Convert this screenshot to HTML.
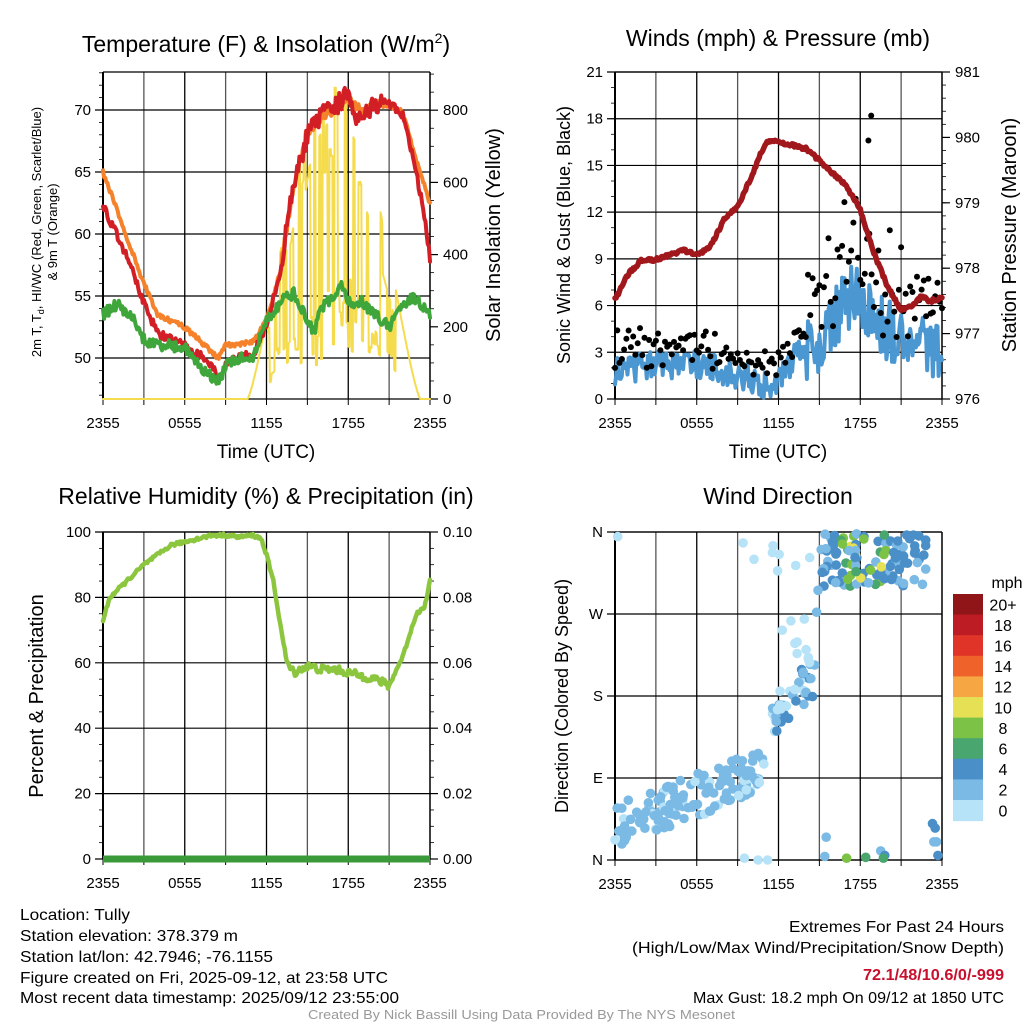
<!DOCTYPE html>
<html><head><meta charset="utf-8">
<style>
html,body{margin:0;padding:0;background:#fff;}
svg{display:block;font-family:"Liberation Sans",sans-serif;}
</style></head>
<body>
<svg id="s" width="1024" height="1024" viewBox="0 0 1024 1024" xmlns="http://www.w3.org/2000/svg">
<rect width="1024" height="1024" fill="#fff"/>
<g id="g"></g>
<g font-family="'Liberation Sans Narrow','Liberation Sans',sans-serif" font-size="16" fill="#000">
<text x="20" y="920" textLength="110" lengthAdjust="spacingAndGlyphs">Location: Tully</text>
<text x="20" y="941" textLength="218" lengthAdjust="spacingAndGlyphs">Station elevation: 378.379 m</text>
<text x="20" y="962" textLength="253" lengthAdjust="spacingAndGlyphs">Station lat/lon: 42.7946; -76.1155</text>
<text x="20" y="983" textLength="368" lengthAdjust="spacingAndGlyphs">Figure created on Fri, 2025-09-12, at 23:58 UTC</text>
<text x="20" y="1003" textLength="379" lengthAdjust="spacingAndGlyphs">Most recent data timestamp: 2025/09/12 23:55:00</text>
<text x="789" y="932" textLength="215" lengthAdjust="spacingAndGlyphs">Extremes For Past 24 Hours</text>
<text x="632" y="953" textLength="372" lengthAdjust="spacingAndGlyphs">(High/Low/Max Wind/Precipitation/Snow Depth)</text>
<text x="863" y="980" textLength="141" lengthAdjust="spacingAndGlyphs" fill="#c8102e" font-weight="bold">72.1/48/10.6/0/-999</text>
<text x="693" y="1003" textLength="311" lengthAdjust="spacingAndGlyphs">Max Gust: 18.2 mph On 09/12 at 1850 UTC</text>
<text x="308" y="1019" textLength="427" lengthAdjust="spacingAndGlyphs" font-size="13" fill="#999">Created By Nick Bassill Using Data Provided By The NYS Mesonet</text>
</g>
</svg>
<script>
(function(){
var out=[];
var seed=12345;function rnd(){seed=(seed*16807)%2147483647;return (seed-1)/2147483646;}
function interp(kp,t){for(var i=0;i<kp.length-1;i++){if(t<=kp[i+1][0]){var a=kp[i],b=kp[i+1];var f=(t-a[0])/(b[0]-a[0]);return a[1]+f*(b[1]-a[1]);}}return kp[kp.length-1][1];}
function txt(x,y,s,sz,anchor,extra){out.push('<text x="'+x+'" y="'+y+'" font-size="'+sz+'" text-anchor="'+(anchor||'start')+'" '+(extra||'')+'>'+s+'</text>');}
function line(x1,y1,x2,y2,c,w){out.push('<line x1="'+x1+'" y1="'+y1+'" x2="'+x2+'" y2="'+y2+'" stroke="'+c+'" stroke-width="'+w+'"/>');}
var times=['2355','0555','1155','1755','2355'];
function frame(L,R,T,B,hgrid,ylab,yfmt,rlab,rgrid,minorL,minorR){
  var w=R-L;
  for(var i=0;i<=8;i++){var x=L+w*i/8;line(x,T,x,B,i%2?'#555':'#000',1.3);}
  hgrid.forEach(function(h){line(L-8,h[0],R,h[0],'#000',1.2);txt(L-12,h[0]+5,h[1],15,'end');});
  (minorL||[]).forEach(function(y){line(L-4,y,L,y,'#000',0.8);});
  (rgrid||[]).forEach(function(h){line(R,h[0],R+8,h[0],'#000',1.2);txt(R+13,h[0]+5,h[1],15,'start');});
  (minorR||[]).forEach(function(y){line(R,y,R+4,y,'#000',0.8);});
  line(L,T,R,T,'#000',1.3);line(L,B,R,B,'#000',1.3);line(L,T,L,B,'#000',2);line(R,T,R,B,'#000',1.3);
  for(var i=0;i<=8;i++){var x=L+w*i/8;line(x,B,x,B+6,'#000',1);if(i%2==0)txt(x,B+29,times[i/2],15,'middle');}
}
function path(pts,c,w,op){var d='M'+pts.map(function(p){return p[0].toFixed(1)+','+p[1].toFixed(1);}).join('L');out.push('<path d="'+d+'" fill="none" stroke="'+c+'" stroke-width="'+w+'" stroke-linejoin="round" stroke-linecap="round"'+(op?' opacity="'+op+'"':'')+'/>');}
var N=288;
/* ---------- Panel 1 ---------- */
(function(){
var L=103,R=430,T=72,B=399;
var yT=function(v){return 358-(v-50)*12.4;};
var yS=function(v){return 399-v*0.361;};
var hg=[[yT(70),'70'],[yT(65),'65'],[yT(60),'60'],[yT(55),'55'],[yT(50),'50']];
var mL=[],mR=[];for(var v=47;v<=73;v++)if(v%5)mL.push(yT(v));
for(var s=50;s<=900;s+=50)if(s%200)mR.push(yS(s));
frame(L,R,T,B,hg,'','',0,[[yS(800),'800'],[yS(600),'600'],[yS(400),'400'],[yS(200),'200'],[yS(0),'0']],mL,mR);
var X=function(t){return L+(R-L)*t/24;};
var red=[[0,62.5],[0.5,61],[1,60],[2,57.5],[3,54.5],[4,52],[5,51.5],[6,51],[7,50.3],[8,49.5],[8.5,48.2],[9,49.5],[10,50],[11,50.3],[12,52.5],[13,57],[14,64],[15,68],[16,69.5],[17,70.2],[18,71.5],[18.5,69.5],[19,69.8],[20,70.5],[21,70.6],[22,69.5],[23,65],[23.5,62],[24,58]];
var org=[[0,65],[1,62],[2,59],[3,56],[4,53.5],[5,53],[6,52.5],[7,51.5],[8,50.5],[8.5,50],[9,51],[11,51.3],[12,53],[13,57],[14,64],[15,68],[16,69.5],[17,70],[18,71],[19,69.8],[20,70.5],[21,70.4],[22,69.8],[23,66],[24,62.5]];
var grn=[[0,53.5],[1,54.3],[2,53.5],[3,51.5],[4,51],[5,51],[6,50.8],[7,49.5],[8,48.5],[8.5,48],[9,49.5],[10,50],[11,50],[12,53],[13,54.5],[14,55.2],[15,53],[15.5,52],[16,54],[17,55],[17.5,55.7],[18,54.5],[19,54.5],[20,53.5],[21,52.5],[22,54.5],[23,54.8],[24,53.5]];
var yl=[],pr=[],po=[],pg=[];
for(var i=0;i<=N;i++){var t=24*i/N;
 var day=t>13&&t<20.5;
 pr.push([X(t),yT(interp(red,t)+(rnd()-0.5)*(day?1.6:0.7))]);
 po.push([X(t),yT(interp(org,t)+(rnd()-0.5)*(day?0.8:0.4))]);
 pg.push([X(t),yT(interp(grn,t)+(rnd()-0.5)*0.9)]);
}
var cf=1;
for(var i=0;i<=N*2;i++){var t=24*i/(N*2);var env=0;
 if(t>10.6&&t<23.3){env=900*Math.pow(Math.sin(Math.PI*(t-10.6)/12.7),1.3);}
 if(t>12&&t<21.5){if(i%3==0)cf=rnd()<0.5?0.1+rnd()*0.3:0.7+rnd()*0.3;} else cf=1;
 if(t>20.5&&t<21.5)cf=Math.min(cf,0.7);
 yl.push([X(t),yS(Math.min(900,env*cf))]);}
path(yl,'#f5dc4e',2);
path(po,'#f5822a',4);
path(pr,'#d21f26',4);
path(pg,'#3ea63a',4);
txt(266,52,'Temperature (F) &amp; Insolation (W/m<tspan dy="-9" font-size="14">2</tspan><tspan dy="9">)</tspan>',23,'middle');
txt(266,458,'Time (UTC)',19,'middle');
out.push('<text transform="translate(41,232) rotate(-90)" font-size="13" text-anchor="middle">2m T, T<tspan font-size="9" dy="3">d</tspan><tspan dy="-3">, HI/WC (Red, Green, Scarlet/Blue)</tspan></text>');
out.push('<text transform="translate(57,232) rotate(-90)" font-size="13" text-anchor="middle">&amp; 9m T (Orange)</text>');
out.push('<text transform="translate(500,235) rotate(-90)" font-size="20" text-anchor="middle">Solar Insolation (Yellow)</text>');
})();
/* ---------- Panel 2 ---------- */
(function(){
var L=615,R=942,T=72,B=399;
var yW=function(v){return B-v*(B-T)/21;};
var yP=function(v){return B-(v-976)*(B-T)/5;};
var hg=[];for(var v=21;v>=0;v-=3)hg.push([yW(v),''+v]);
var mL=[];for(var v=1;v<21;v++)if(v%3)mL.push(yW(v));
var rg=[];for(var p=981;p>=976;p--)rg.push([yP(p),''+p]);
var mR=[];for(var p=976.2;p<981;p+=0.2)mR.push(yP(p));
frame(L,R,T,B,hg,'','',0,rg,mL,mR);
var X=function(t){return L+(R-L)*t/24;};
var pk=[[0,977.52],[1,977.92],[2,978.13],[3,978.13],[4,978.2],[5,978.28],[6,978.2],[7,978.33],[8,978.74],[9,978.94],[10,979.4],[11,979.9],[11.5,979.96],[13,979.88],[14,979.83],[15,979.65],[16,979.45],[17,979.25],[18,978.89],[19,978.23],[20,977.72],[21,977.36],[22,977.46],[22.5,977.59],[23,977.49],[24,977.54]];
var wk=[[0,1.8],[3,2.2],[6,2.2],[8,1.8],[10,1.2],[11.5,0.8],[12,1.2],[13,2.5],[14,3.2],[15,3.5],[16,5],[17,6.5],[18,6.5],[19,5],[20,4.5],[21,4],[22,3.5],[23,3],[24,3.5]];
var pw=[],pp=[],dots=[];
for(var i=0;i<=N;i++){var t=24*i/N;var base=interp(wk,t);var amp=t>14?3.2:1.4;
 var w=Math.max(0,base+(rnd()-0.5)*amp*1.3);
 pw.push([X(t),yW(w)]);
 pp.push([X(t),yP(interp(pk,t)+(rnd()-0.5)*0.05)]);
 if(i%2==0){var g=w+0.6+rnd()*(t>14?4:1.2);if(t>16&&t<19&&rnd()<0.25)g+=4;dots.push([X(t),yW(Math.min(20.5,g))]);}
}
dots.push([X(18.8),yW(18.2)]);dots.push([X(18.6),yW(16.6)]);
path(pw,'#4a97d2',4);
out.push('<g fill="#000">'+dots.map(function(d){return '<circle cx="'+d[0].toFixed(1)+'" cy="'+d[1].toFixed(1)+'" r="3"/>';}).join('')+'</g>');
path(pp,'#a0171c',5.5);
txt(778,46,'Winds (mph) &amp; Pressure (mb)',23,'middle');
txt(778,458,'Time (UTC)',19,'middle');
out.push('<text transform="translate(570,235) rotate(-90)" font-size="18" text-anchor="middle">Sonic Wind &amp; Gust (Blue, Black)</text>');
out.push('<text transform="translate(1016,235) rotate(-90)" font-size="20" text-anchor="middle">Station Pressure (Maroon)</text>');
})();
/* ---------- Panel 3 ---------- */
(function(){
var L=103,R=430,T=532,B=859;
var yR=function(v){return B-v*(B-T)/100;};
var hg=[];for(var v=100;v>=0;v-=20)hg.push([yR(v),''+v]);
var mL=[];for(var v=5;v<100;v+=5)if(v%20)mL.push(yR(v));
var rg=[];for(var v=100;v>=0;v-=20)rg.push([yR(v),(v/1000).toFixed(2)]);
frame(L,R,T,B,hg,'','',0,rg,mL,mL);
var X=function(t){return L+(R-L)*t/24;};
var rk=[[0,73],[0.5,80],[2,86],[3,90],[4,93],[5,96],[6,97],[7,98],[8,99],[9,99],[10,98.5],[11,99],[11.6,98],[12,93],[12.5,85],[13,72],[13.5,60],[14,57],[15,59],[16,58],[17,58],[18,57],[19,56],[20,55],[21,53],[22,62],[23,75],[23.6,77],[24,85]];
var p=[];for(var i=0;i<=N;i++){var t=24*i/N;p.push([X(t),yR(interp(rk,t)+(rnd()-0.5)*(t>13.5&&t<21?2.5:1))]);}
path(p,'#8cc63e',4.5);
line(L,B,R,B,'#3a9a3a',7);
txt(266,504,'Relative Humidity (%) &amp; Precipitation (in)',23,'middle');
out.push('<text transform="translate(43,696) rotate(-90)" font-size="20" text-anchor="middle">Percent &amp; Precipitation</text>');
})();
/* ---------- Panel 4 ---------- */
(function(){
var L=615,R=942,T=532,B=860;
var yD=function(d){return B-d*(B-T)/360;};
var hg=[[yD(360),'N'],[yD(270),'W'],[yD(180),'S'],[yD(90),'E'],[yD(0),'N']];
frame(L,R,T,B,hg,'','',0,[],[],[]);
var X=function(t){return L+(R-L)*t/24;};
var cols=['#b7e3f8','#7bbae4','#4a8fc8','#48a66e','#7cc247','#e6e055','#f6a743','#ef632a','#df3427','#bd1c25','#8f1519'];
var dots=[];
function add(t,d,s){dots.push([X(t),yD(d),cols[Math.max(0,Math.min(10,Math.floor(s/2)))]]);}
for(var i=0;i<150;i++){var t=rnd()*11;var d=35+t*6+(rnd()-0.5)*50;add(t,d,rnd()<0.8?2+rnd()*1.5:rnd()*2);}
for(var i=0;i<45;i++){var t=11.5+rnd()*3.2;var d=150+(t-11.5)*18+(rnd()-0.5)*50;add(t,d,rnd()*5);}
for(var i=0;i<12;i++){var t=11.5+rnd()*3;add(t,220+rnd()*130,rnd()*2);}
for(var i=0;i<110;i++){var t=15+rnd()*8;var d=300+rnd()*58;var s=(t>16.5&&t<20&&rnd()<0.5)?6+rnd()*5:3+rnd()*2.5;add(t,d,s);}
[[23.3,40,4],[23.5,35,4],[23.6,20,3],[23.4,20,2],[23.7,5,4],[19.5,10,3],[19.8,5,4],[19.7,2,6],[17,2,8],[15.4,4,3],[15.5,25,3],[18.4,3,6],[9.5,2,0],[10.5,0,0],[11.2,0,0],[0.2,355,0],[10.2,330,0],[9.4,348,0],[11.6,345,0],[14.9,296,2],[14.8,272,2]].forEach(function(a){add(a[0],a[1],a[2]);});
out.push('<g>'+dots.map(function(d){return '<circle cx="'+d[0].toFixed(1)+'" cy="'+d[1].toFixed(1)+'" r="4.8" fill="'+d[2]+'"/>';}).join('')+'</g>');
txt(778,504,'Wind Direction',23,'middle');
out.push('<text transform="translate(568,696) rotate(-90)" font-size="18" text-anchor="middle">Direction (Colored By Speed)</text>');
var labs=['20+','18','16','14','12','10','8','6','4','2','0'];
var y0=594,h=20.6;
for(var i=0;i<11;i++){out.push('<rect x="953" y="'+(y0+i*h).toFixed(1)+'" width="30" height="'+(h+0.5).toFixed(1)+'" fill="'+cols[10-i]+'"/>');txt(1003,y0+i*h+h/2+6,labs[i],16,'middle');}
txt(1007,588,'mph',16,'middle');
})();
document.getElementById('g').innerHTML=out.join('');
})();
</script>
</body></html>
